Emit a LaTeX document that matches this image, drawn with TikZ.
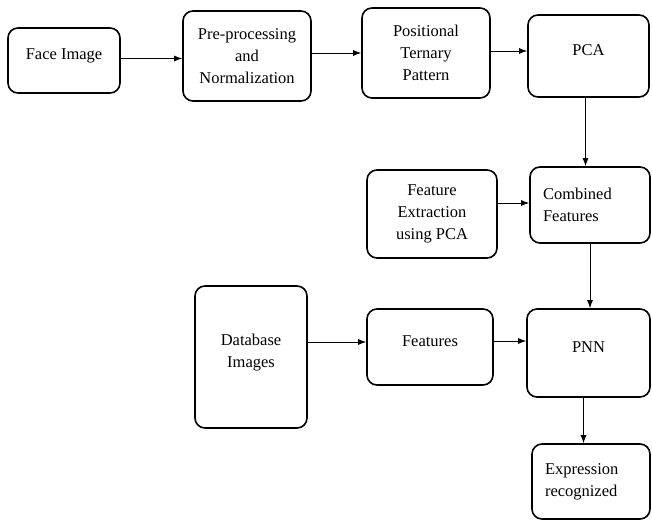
\documentclass[tikz,border=0pt]{standalone}
\usepackage{fontspec}
\setmainfont{Liberation Serif}
\usetikzlibrary{arrows.meta}

\tikzset{
  blk/.style={draw=black, line width=1.6pt, rounded corners=10pt, align=center,
    font=\fontsize{16.5}{22}\selectfont, inner sep=2pt},
  lifted/.style={text depth=12pt},% text sits a little above the middle
  arr/.style={draw=black, line width=0.9pt, -{Latex[length=8pt,width=6pt]}}
}

\begin{document}
\begin{tikzpicture}[x=1pt, y=-1pt]
\useasboundingbox (0,0) rectangle (652,521);

% top row
\node[blk, lifted, minimum width=112pt, minimum height=65pt] (face) at (64,60.5) {Face Image};
\node[blk, minimum width=128pt, minimum height=90pt] (prep) at (247,56) {Pre-processing\\and\\Normalization};
\node[blk, minimum width=128pt, minimum height=90pt] (ptp) at (426,53) {Positional\\Ternary\\Pattern};
\node[blk, lifted, minimum width=121pt, minimum height=82pt] (pca) at (588.5,56) {PCA};

% middle row
\node[blk, minimum width=130pt, minimum height=88pt] (fex) at (432,214) {Feature\\Extraction\\using PCA};
\node[blk, align=left, text width=94pt, minimum width=120pt, minimum height=76pt] (comb) at (590,205) {Combined\\Features};

% bottom rows
\node[blk, lifted, minimum width=112pt, minimum height=142pt] (db) at (251,357) {Database\\Images};
\node[blk, lifted, minimum width=126pt, minimum height=76pt] (feat) at (430,347) {Features};
\node[blk, lifted, minimum width=123pt, minimum height=88pt] (pnn) at (588.5,353) {PNN};
\node[blk, align=left, text width=92pt, minimum width=118pt, minimum height=75pt] (expr) at (591,481.5) {Expression\\recognized};

% connectors
\draw[arr] ([yshift=2pt]face.east) -- ([yshift=2pt]face.east -| prep.west);
\draw[arr] ([yshift=3pt]prep.east) -- ([yshift=3pt]prep.east -| ptp.west);
\draw[arr] ([yshift=2pt]ptp.east) -- ([yshift=2pt]ptp.east -| pca.west);
\draw[arr] ([xshift=-3pt]pca.south) -- ([xshift=-3pt]pca.south |- comb.north);
\draw[arr] ([yshift=2pt]fex.east |- comb) -- ([yshift=2pt]comb.west);
\draw[arr] (comb.south) -- (comb.south |- pnn.north);
\draw[arr] ([yshift=5pt]db.east |- feat) -- ([yshift=5pt]feat.west);
\draw[arr] ([yshift=6pt]feat.east) -- ([yshift=6pt]feat.east -| pnn.west);
\draw[arr] ([xshift=-5pt]pnn.south) -- ([xshift=-5pt]pnn.south |- expr.north);
\end{tikzpicture}
\end{document}
